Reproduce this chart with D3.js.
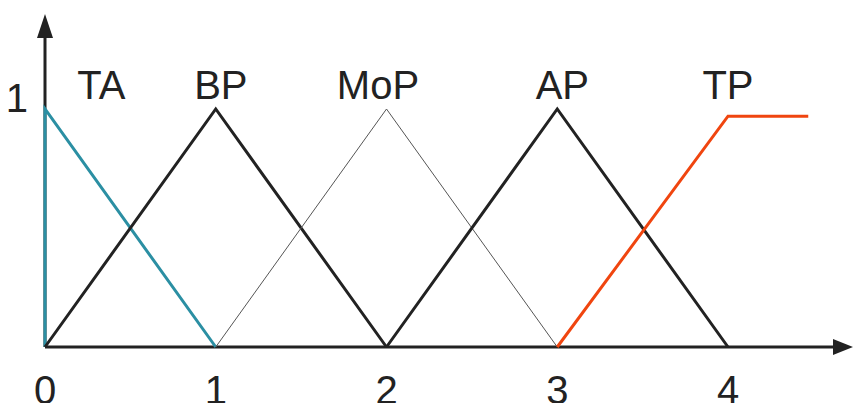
<!DOCTYPE html>
<html>
<head>
<script src="https://cdn.jsdelivr.net/npm/d3@7"></script>
<style>
body { margin: 0; background: #fff; }
text { font-family: "Liberation Sans", Arial, sans-serif; font-size: 40px; fill: #222; }
.set { fill: none; stroke-linejoin: miter; }
.axis { stroke: #222; stroke-width: 3px; }
</style>
</head>
<body>
<svg id="chart" width="853" height="403"></svg>
<script>
// membership functions (x, mu)
var names = ["TA", "BP", "MoP", "AP", "TP"];
var TA  = [[0, 0], [0, 1], [1, 0]];
var BP  = [[0, 0], [1, 1], [2, 0]];
var MoP = [[1, 0], [2, 1], [3, 0]];
var AP  = [[2, 0], [3, 1], [4, 0]];
var TP  = [[3, 0], [4, 0.97], [4.47, 0.97]];
var xTicks = [0, 1, 2, 3, 4];
var yTicks = [1];

var series = [
    {name: "TA", pts: TA, color: "#2b8fa3", w: 3, lx: 0.33},
    {name: "BP", pts: BP, color: "#222", w: 3, lx: 1.03},
    {name: "MoP", pts: MoP, color: "#555", w: 1, lx: 1.95},
    {name: "AP", pts: AP, color: "#222", w: 3, lx: 3.03},
    {name: "TP", pts: TP, color: "#f0450f", w: 3, lx: 4.0}
];

var svg = d3.select("#chart");

var x = d3.scaleLinear().domain([0, 4]).range([45, 728]);
var y = d3.scaleLinear().domain([0, 1]).range([347, 109]);

var line = d3.line()
    .x(function(d) { return x(d[0]); })
    .y(function(d) { return y(d[1]); });

// axes with arrow heads
svg.append("line").attr("class", "axis")
    .attr("x1", x(0)).attr("y1", y(0))
    .attr("x2", x(0)).attr("y2", 34);
svg.append("path")
    .attr("d", "M" + x(0) + ",14 L" + (x(0) - 8) + ",38 L" + (x(0) + 8) + ",38 Z")
    .attr("fill", "#222");

svg.append("line").attr("class", "axis")
    .attr("x1", x(0)).attr("y1", y(0))
    .attr("x2", 840).attr("y2", y(0));
svg.append("path")
    .attr("d", "M853," + y(0) + " L833," + (y(0) - 8) + " L833," + (y(0) + 8) + " Z")
    .attr("fill", "#222");

series.forEach(function(s) {
    svg.append("path")
        .datum(s.pts)
        .attr("class", "set")
        .attr("stroke", s.color)
        .attr("stroke-width", s.w)
        .attr("d", line);

    svg.append("text")
        .attr("x", x(s.lx))
        .attr("y", 99)
        .attr("text-anchor", "middle")
        .text(s.name);
});

svg.selectAll(".xt")
    .data(xTicks)
    .enter().append("text")
    .attr("class", "xt")
    .attr("x", function(d) { return x(d); })
    .attr("y", 404)
    .attr("text-anchor", "middle")
    .text(function(d) { return d; });

svg.selectAll(".yt")
    .data(yTicks)
    .enter().append("text")
    .attr("class", "yt")
    .attr("x", 28)
    .attr("y", function(d) { return y(d) + 3; })
    .attr("text-anchor", "end")
    .text(function(d) { return d; });
</script>
</body>
</html>
